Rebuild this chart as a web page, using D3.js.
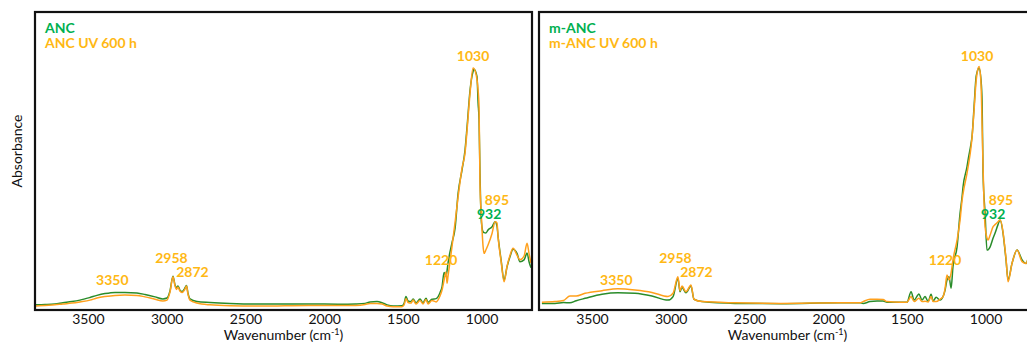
<!DOCTYPE html>
<html>
<head>
<meta charset="utf-8">
<script src="https://cdn.jsdelivr.net/npm/d3@7"></script>
<style>
  body { margin: 0; overflow: hidden; background: #fff; }
  text { font-family: Lato, "Open Sans", sans-serif; }
</style>
</head>
<body>
<div id="container"></div>
<script>
// wavenumbers (cm-1) and absorbance (a.u.)
const wnLeft = [3830,3773,3710,3659,3602,3551,3487,3443,3392,3328,3265,3189,3138,3074,3024,2998,2979,2960,2947,2938,2928,2916,2903,2887,2874,2865,2852,2808,2725,2598,2400,2100,1899,1800,1740,1708,1664,1632,1600,1562,1505,1492,1480,1467,1448,1435,1416,1391,1372,1353,1340,1315,1289,1264,1251,1238,1226,1219,1213,1188,1168,1149,1124,1105,1092,1073,1054,1048,1029,1022,1016,1010,1003,997,991,984,972,959,933,914,902,895,876,857,838,819,800,775,756,730,711,698,686];

const anc = [.014,.015,.017,.021,.025,.030,.039,.046,.052,.056,.056,.054,.049,.041,.034,.037,.061,.111,.081,.071,.078,.064,.059,.068,.079,.054,.034,.025,.022,.019,.017,.017,.016,.017,.019,.024,.025,.021,.014,.010,.011,.019,.042,.027,.025,.034,.021,.034,.021,.036,.023,.033,.035,.055,.075,.123,.111,.130,.155,.223,.274,.391,.470,.537,.616,.740,.802,.810,.785,.696,.640,.459,.312,.275,.261,.258,.257,.267,.278,.295,.280,.244,.166,.098,.143,.177,.202,.188,.160,.166,.189,.159,.139];

const ancUV = [.010,.012,.014,.017,.020,.024,.030,.037,.042,.046,.047,.046,.041,.033,.027,.030,.057,.109,.078,.066,.074,.061,.056,.064,.078,.051,.030,.020,.014,.011,.010,.012,.012,.012,.015,.019,.019,.017,.010,.008,.008,.014,.035,.022,.020,.030,.017,.029,.017,.032,.017,.029,.024,.044,.064,.098,.125,.087,.111,.210,.294,.379,.476,.527,.605,.730,.814,.812,.774,.740,.683,.426,.330,.267,.215,.188,.200,.216,.256,.295,.291,.243,.162,.092,.145,.182,.205,.182,.166,.179,.222,.186,.155];

const wnRight = [3818,3735,3680,3640,3600,3544,3436,3335,3227,3119,3017,2985,2954,2941,2928,2903,2871,2852,2801,2592,2300,1924,1797,1778,1734,1689,1651,1626,1543,1499,1473,1454,1423,1404,1384,1365,1346,1333,1314,1289,1270,1257,1245,1232,1219,1207,1181,1162,1149,1143,1118,1111,1092,1086,1073,1060,1054,1041,1029,1022,1016,1003,991,984,971,952,940,921,908,889,883,870,857,832,800,768,743,711,686];

const mAnc = [.019,.019,.022,.021,.028,.036,.050,.055,.053,.044,.030,.042,.104,.058,.073,.055,.078,.033,.025,.019,.018,.021,.021,.019,.025,.027,.027,.023,.023,.023,.058,.030,.051,.030,.042,.025,.050,.027,.040,.030,.042,.064,.098,.109,.070,.143,.210,.323,.380,.413,.480,.503,.560,.582,.683,.785,.800,.813,.774,.700,.459,.323,.199,.200,.210,.240,.256,.285,.301,.256,.230,.166,.098,.154,.199,.166,.154,.199,.159];

const mAncUV = [.023,.025,.029,.044,.044,.053,.062,.068,.064,.056,.042,.053,.109,.062,.078,.058,.081,.033,.025,.021,.019,.021,.021,.025,.033,.033,.032,.025,.023,.023,.042,.025,.036,.025,.026,.024,.042,.025,.025,.033,.042,.070,.115,.098,.121,.166,.233,.300,.368,.390,.458,.480,.548,.580,.672,.770,.796,.819,.762,.620,.481,.278,.240,.233,.250,.278,.285,.295,.301,.260,.233,.170,.092,.154,.199,.160,.154,.206,.159];

const xTicks = [3500, 3000, 2500, 2000, 1500, 1000];

// peak labels: text, wavenumber, absorbance, series
const peakText = ["3350", "2958", "2872", "1220", "1030", "895", "932"];
const peakWn   = [3345, 2970, 2836, 1257, 1054, 902, 952];
const peakAbs  = [0.081, 0.155, 0.109, 0.149, 0.838, 0.350, 0.303];
const peakSer  = [1, 1, 1, 1, 1, 1, 0];

const green = "#2a8c2a";
const orange = "#ffa01c";
const greenText = "#00b050";
const orangeText = "#ffb814";

const width = 1027;
const height = 344;
const plotW = 495;
const plotTop = 13, plotBottom = 309;

const svg = d3.create("svg")
  .attr("width", width)
  .attr("height", height);

const y = d3.scaleLinear().domain([0, 1]).range([plotBottom, plotTop]);

const panels = [
  { left: 36, wn: wnLeft, series: [anc, ancUV], names: ["ANC", "ANC UV 600 h"] },
  { left: 540, wn: wnRight, series: [mAnc, mAncUV], names: ["m-ANC", "m-ANC UV 600 h"] }
];

panels.forEach((p, i) => {
  const x = d3.scaleLinear().domain([3830, 686]).range([p.left, p.left + plotW]);

  svg.append("clipPath").attr("id", "clip" + i)
    .append("rect")
    .attr("x", p.left).attr("y", plotTop)
    .attr("width", plotW).attr("height", plotBottom - plotTop);

  const line = d3.line()
    .x(d => x(d[0]))
    .y(d => y(d[1]))
    .curve(d3.curveMonotoneX);

  const g = svg.append("g").attr("clip-path", `url(#clip${i})`);
  [green, orange].forEach((c, k) => {
    g.append("path")
      .datum(p.wn.map((w, j) => [w, p.series[k][j]]))
      .attr("fill", "none")
      .attr("stroke", c)
      .attr("stroke-width", 1.5)
      .attr("stroke-linejoin", "round")
      .attr("d", line);
  });

  // frame
  svg.append("rect")
    .attr("x", p.left - 1).attr("y", plotTop - 1)
    .attr("width", plotW + 2).attr("height", plotBottom - plotTop + 2)
    .attr("fill", "none")
    .attr("stroke", "#111")
    .attr("stroke-width", 2.2);

  // x axis
  const ax = svg.append("g")
    .attr("transform", `translate(0,${plotBottom + 1})`)
    .call(d3.axisBottom(x).tickValues(xTicks).tickFormat(d3.format("d")).tickSize(0).tickPadding(4));
  ax.select(".domain").remove();
  ax.selectAll("text")
    .attr("font-size", "14px")
    .attr("fill", "#111")
    .style("font-family", "Lato, sans-serif");

  const title = svg.append("text")
    .attr("x", p.left + plotW / 2)
    .attr("y", 340)
    .attr("text-anchor", "middle")
    .attr("font-size", "14px")
    .attr("fill", "#111");
  title.append("tspan").text("Wavenumber (cm");
  title.append("tspan").attr("font-size", "9px").attr("dy", -5).text("-1");
  title.append("tspan").attr("dy", 5).text(")");

  // legend
  p.names.forEach((n, k) => {
    svg.append("text")
      .attr("x", p.left + 9)
      .attr("y", 33 + k * 15)
      .attr("font-size", "14px")
      .attr("font-weight", "bold")
      .attr("fill", k === 0 ? greenText : orangeText)
      .text(n);
  });

  // peak labels
  svg.append("g")
    .selectAll("text")
    .data(peakText)
    .join("text")
    .attr("x", (d, j) => x(peakWn[j]))
    .attr("y", (d, j) => y(peakAbs[j]))
    .attr("text-anchor", "middle")
    .attr("font-size", "14px")
    .attr("font-weight", "bold")
    .attr("fill", (d, j) => peakSer[j] === 0 ? greenText : orangeText)
    .text(d => d);
});

svg.append("text")
  .attr("transform", "translate(22,151) rotate(-90)")
  .attr("text-anchor", "middle")
  .attr("font-size", "14px")
  .attr("fill", "#111")
  .text("Absorbance");

d3.select("#container").append(() => svg.node());
</script>
</body>
</html>
